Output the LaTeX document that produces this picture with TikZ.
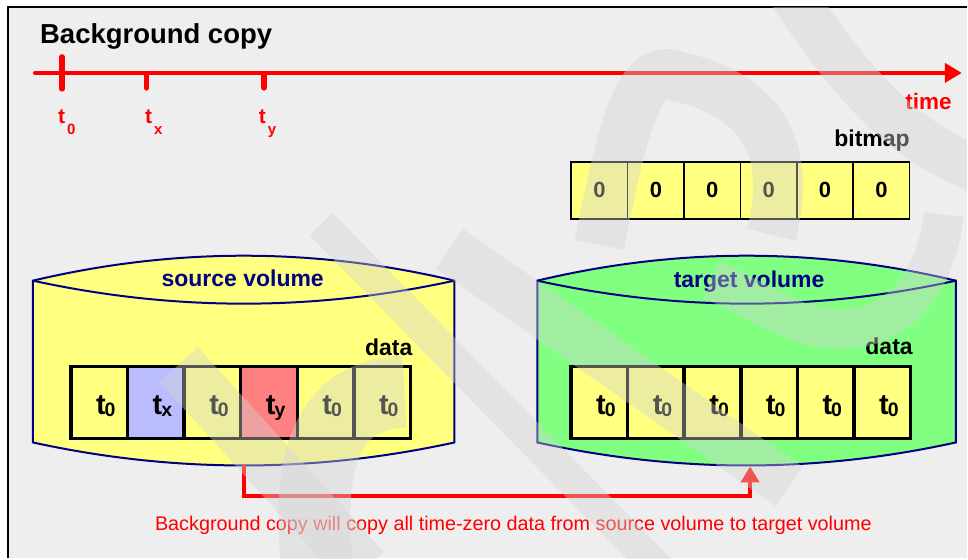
\documentclass[tikz,border=0pt]{standalone}
\usepackage{fontspec}
\setmainfont{Liberation Sans}
\usetikzlibrary{arrows.meta,calc}

\definecolor{panel}{HTML}{EEEEEE}
\definecolor{cellyellow}{HTML}{FFFF80}
\definecolor{volgreen}{HTML}{80FF80}
\definecolor{cellblue}{HTML}{BBBBFF}
\definecolor{cellred}{HTML}{FF8080}
\definecolor{navy}{HTML}{000080}
\definecolor{alert}{HTML}{FF0000}
\definecolor{veil}{HTML}{D4D4D4}

% t with a subscript, as used in the data cells and under the time axis
\newcommand\tcell[1]{{\fontsize{29}{29}\selectfont t}\kern-1pt\raisebox{-2.5pt}{\fontsize{19.5}{19.5}\selectfont #1}}
\newcommand\ttick[1]{{\fontsize{21}{21}\selectfont t}\kern2pt\raisebox{-11pt}{\fontsize{15}{15}\selectfont #1}}

% drum-shaped volume: #1 left x, #2 right x, #3 fill colour
\newcommand\drawdrum[3]{%
  \path[draw=navy, line width=2, fill=#3, line join=miter]
    (#1,281) -- (#1,443)
    .. controls ({#1+(#2-#1)/3},473.7) and ({#1+2*(#2-#1)/3},473.7) .. (#2,443)
    -- (#2,281)
    .. controls ({#1+2*(#2-#1)/3},247.7) and ({#1+(#2-#1)/3},247.7) .. (#1,281) -- cycle;
  \draw[navy, line width=2]
    (#1,281) .. controls ({#1+(#2-#1)/3},311.7) and ({#1+2*(#2-#1)/3},311.7) .. (#2,281);
}

\begin{document}
\begin{tikzpicture}[x=1pt, y=-1pt,
  lbl/.style={font=\fontsize{23}{23}\selectfont\bfseries, inner sep=0},
  datacell/.style={draw=black, line width=3.5, minimum width=56.67, minimum height=72, inner sep=0, fill=cellyellow},
  bitcell/.style={draw=black, line width=1.6, minimum width=56.45, minimum height=57, inner sep=0, fill=cellyellow,
                  font=\fontsize{22}{22}\selectfont\bfseries},
  celltext/.style={anchor=base west, inner sep=0, font=\bfseries},
  ticktext/.style={anchor=base west, inner sep=0, font=\bfseries, text=alert},
  tick/.style={alert, line width=5.5, line cap=round},
  flow/.style={alert, line width=4},
  wm/.style={draw=veil, draw opacity=0.4, line cap=butt}
]
% page and panel
\fill[white] (0,0) rectangle (968,559);
\fill[panel] (8,7) rectangle (968,559);
\draw[black, line width=2.4] (8,559) -- (8,7) -- (968,7);
\useasboundingbox (0,0) rectangle (968,559);

% title
\node[anchor=base west, inner sep=0, font=\fontsize{27.5}{27.5}\selectfont\bfseries] (title) at (40,44) {Background copy};

% time axis
\coordinate (axis0) at (35,73);
\coordinate (axis1) at (963,73);
\draw[alert, line width=4, line cap=round, -{Triangle[length=17,width=19]}] (axis0) -- (axis1);
\coordinate (tk0) at (62,73);
\coordinate (tkx) at (146.5,73);
\coordinate (tky) at (264.3,73);
\draw[tick] ($(tk0)+(0,-16)$) -- ($(tk0)+(0,16)$);
\draw[tick] ($(tkx)+(0,1)$) -- ($(tkx)+(0,15)$);
\draw[tick] ($(tky)+(0,1)$) -- ($(tky)+(0,15)$);
\node[ticktext] (lt0) at (58,124) {\ttick{0}};
\node[ticktext] (ltx) at (145,124) {\ttick{x}};
\node[ticktext] (lty) at (259,124) {\ttick{y}};
\node[anchor=base east, inner sep=0, text=alert, font=\fontsize{22.5}{22.5}\selectfont\bfseries] (time) at (953,110) {time};

% bitmap
\node[lbl, anchor=base east] (bmlabel) at (911,147) {bitmap};
\foreach \i in {0,...,5}
  \node[bitcell] (b\i) at ({572+28.22+56.45*\i},190.5) {0};

% volumes
\drawdrum{33}{455}{cellyellow}
\drawdrum{538}{957}{volgreen}
\coordinate (srcbot) at (244,466);
\coordinate (tgtbot) at (751,467);
\node[lbl, text=navy, anchor=base] (srcname) at (243,287) {source volume};
\node[lbl, text=navy, anchor=base] (tgtname) at (750,288) {target volume};
\node[lbl, anchor=base east] (srcdata) at (413,356) {data};
\node[lbl, anchor=base east] (tgtdata) at (914,355) {data};

% data blocks of the source volume
\foreach \i/\c/\s in {0/cellyellow/0, 1/cellblue/x, 2/cellyellow/0, 3/cellred/y, 4/cellyellow/0, 5/cellyellow/0} {
  \node[datacell, fill=\c] (s\i) at ({71+28.33+56.67*\i},403) {};
  \node[celltext] (st\i) at ({71+25+56.67*\i},415) {\tcell{\s}};
}
% data blocks of the target volume
\foreach \i in {0,...,5} {
  \node[datacell] (t\i) at ({571.7+28.33+56.67*\i},403) {};
  \node[celltext] (tt\i) at ({571.7+25+56.67*\i},415) {\tcell{0}};
}

% background copy path
\draw[flow, -{Triangle[length=16,width=18]}] (srcbot) -- ++(0,31) -| (tgtbot);
\node[anchor=base, inner sep=0, text=alert, font=\fontsize{19.8}{19.8}\selectfont] (note) at (514,531)
  {Background copy will copy all time-zero data from source volume to target volume};

% faint watermark strokes over the whole panel
\begin{scope}
\clip (9,8) rectangle (968,559);
\draw[wm, line width=52] (179,365) -- (365,570);
\draw[wm, line width=32] (321.5,224.5) -- (660,570);
\draw[wm, line width=72] (318,570) .. controls (303,440) and (340,395) .. (405,392);
\draw[wm, line width=48] (450,249) -- (790,487);
\draw[wm, line width=46] (790,-10) .. controls (850,80) and (900,140) .. (980,170);
\draw[wm, line width=40] (945,215) .. controls (930,330) and (850,345) .. (790,318)
   .. controls (760,305) and (740,292) .. (712,280);
\draw[wm, line width=50] (600,245) .. controls (625,120) and (640,60) .. (680,77)
   .. controls (740,90) and (800,130) .. (772,235);
\end{scope}
\end{tikzpicture}
\end{document}
